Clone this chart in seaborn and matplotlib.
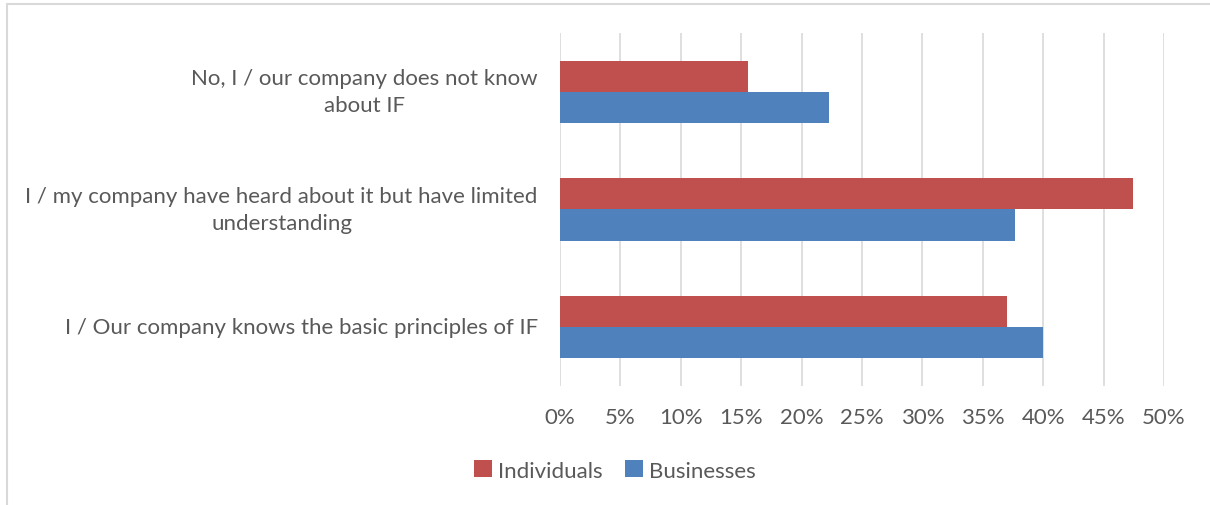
import matplotlib
matplotlib.use("Agg")
import matplotlib.pyplot as plt
from matplotlib.patches import Patch
from matplotlib.lines import Line2D
import seaborn as sns
import pandas as pd

# Survey answers (top to bottom) and share of respondents, in percent
categories = [
    "No, I / our company does not know\nabout IF",
    "I / my company have heard about it but have limited\nunderstanding",
    "I / Our company knows the basic principles of IF",
]
series = ["Individuals", "Businesses"]
individuals = [15.6, 47.4, 37.0]
businesses = [22.3, 37.7, 40.0]
x_ticks = [0, 5, 10, 15, 20, 25, 30, 35, 40, 45, 50]

colors = {"Individuals": "#C0504D", "Businesses": "#4F81BD"}
text_color = "#595959"
grid_color = "#D9D9D9"

df = pd.DataFrame({
    "category": categories * 2,
    "series": [series[0]] * 3 + [series[1]] * 3,
    "value": individuals + businesses,
})

sns.set_theme(style="white")
plt.rcParams["font.family"] = ["Lato", "DejaVu Sans"]

fig = plt.figure(figsize=(12.1, 5.06), dpi=100)
ax = fig.add_axes([560 / 1210, 1 - 386.7 / 506, 604 / 1210, (386.7 - 34) / 506])

sns.barplot(
    data=df, x="value", y="category", hue="series", order=categories,
    hue_order=series, palette=colors, orient="h", width=0.53, gap=0,
    saturation=1, edgecolor="none", linewidth=0, ax=ax, legend=False,
)

ax.set_xlim(0, 50)
ax.set_ylim(2.5, -0.5)
ax.set_xticks(x_ticks)
ax.set_xticklabels([f"{t}%" for t in x_ticks])
ax.set_axisbelow(True)
ax.grid(axis="x", color=grid_color, linewidth=1.2)
ax.grid(axis="y", visible=False)
for s in ax.spines.values():
    s.set_visible(False)
ax.set_xlabel("")
ax.set_ylabel("")
ax.tick_params(axis="x", length=0, pad=15, labelsize=16, labelcolor=text_color)
ax.tick_params(axis="y", length=0, pad=16, labelsize=16, labelcolor=text_color)
for lbl in ax.get_yticklabels():
    lbl.set_multialignment("center")
    lbl.set_linespacing(1.45)
    lbl.set_verticalalignment("center")

handles = [Patch(facecolor=colors[s], edgecolor="none") for s in series]
fig.legend(
    handles, series, loc="center", bbox_to_anchor=(615 / 1210, 1 - 471.5 / 506),
    ncol=2, frameon=False, fontsize=16, labelcolor=text_color,
    handlelength=0.8, handleheight=0.8, handletextpad=0.3, columnspacing=1.0,
)

# thin chart-area border along the top and left edges
fig.add_artist(Line2D([6.5 / 1210, 6.5 / 1210], [0, 1 - 5 / 506],
                      transform=fig.transFigure, color=grid_color, lw=1.5))
fig.add_artist(Line2D([6.5 / 1210, 1], [1 - 5 / 506, 1 - 5 / 506],
                      transform=fig.transFigure, color=grid_color, lw=1.5))

fig.savefig("out.png", dpi=100, facecolor="white")
